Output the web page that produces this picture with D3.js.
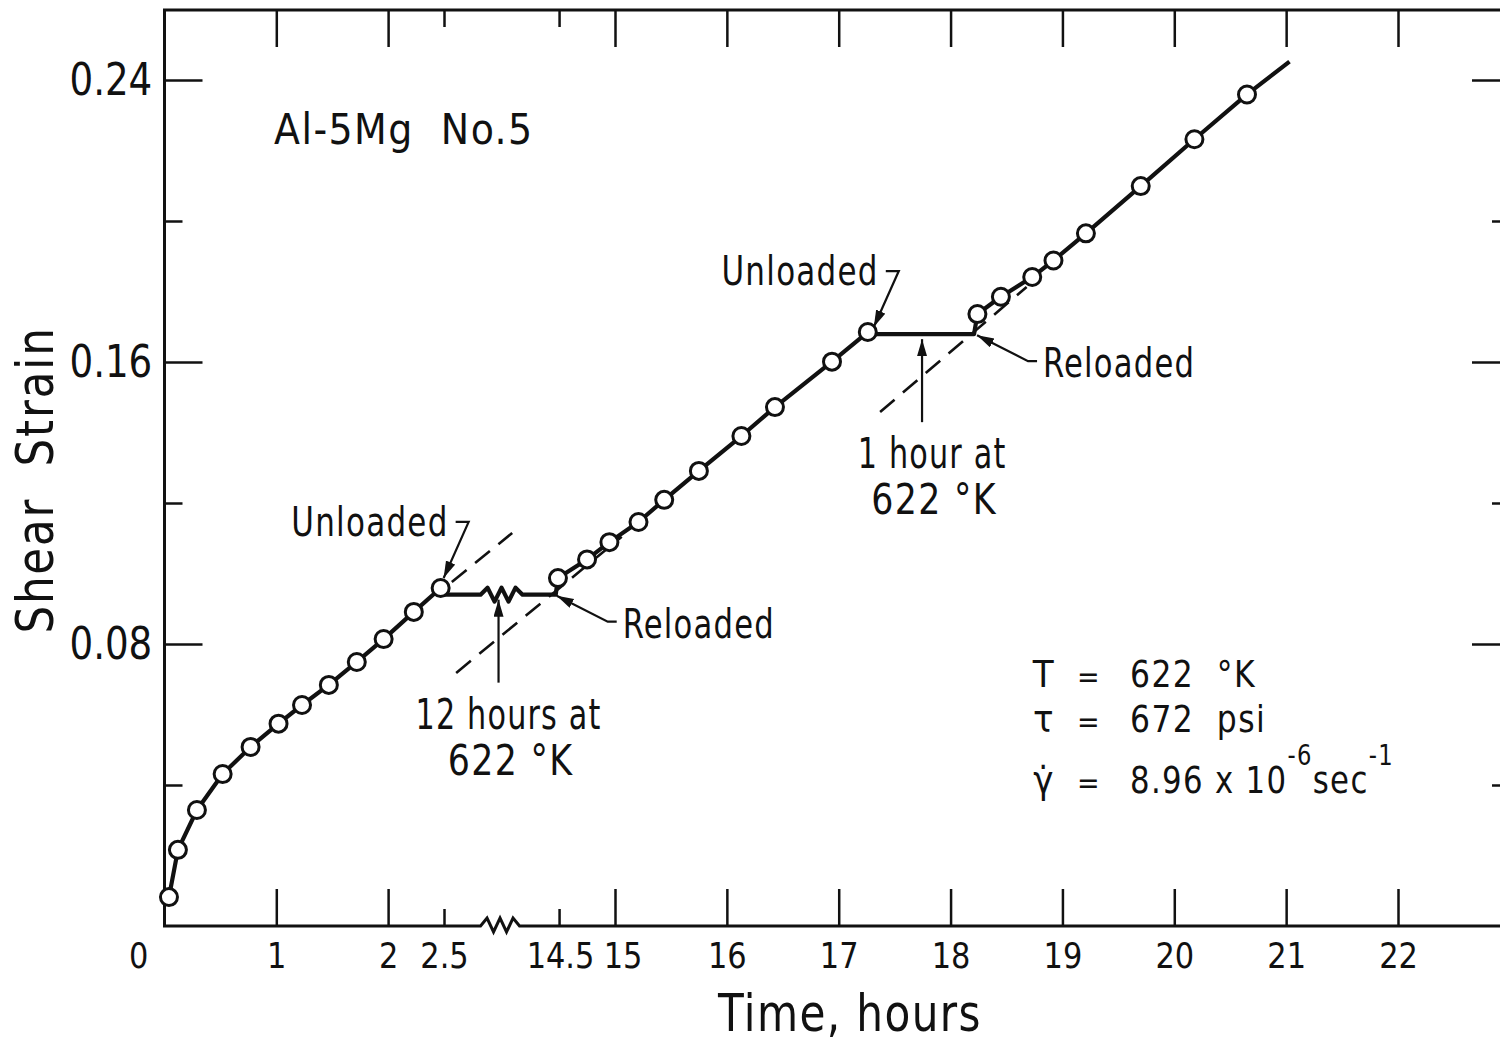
<!DOCTYPE html>
<html lang="en">
<head>
<meta charset="UTF-8" />
<title>Shear strain vs time - Al-5Mg No. 5</title>
<script src="https://d3js.org/d3.v7.min.js"></script>
<style>
  body { margin: 0; background: #fff; }
  svg { display: block; }
  text {
    font-family: "Liberation Sans Narrow", "DejaVu Sans Condensed", "DejaVu Sans", sans-serif;
    fill: #111;
  }
</style>
</head>
<body>
<script>
// first loading, before the 12 h hold (hours, shear strain)
var timesA  = [0.04, 0.12, 0.29, 0.52, 0.77, 1.02, 1.23, 1.47, 1.72, 1.96, 2.23, 2.47];
var strainA = [0.0082, 0.0216, 0.0329, 0.0431, 0.0508, 0.0574, 0.0627, 0.0684, 0.0749, 0.0814, 0.0891, 0.0959];
// after first reload, up to second unload
var timesB  = [14.49, 14.75, 14.95, 15.21, 15.44, 15.75, 16.13, 16.43, 16.94, 17.26];
var strainB = [0.0987, 0.1040, 0.1089, 0.1146, 0.1209, 0.1291, 0.1390, 0.1472, 0.1601, 0.1685];
// after second reload
var timesC  = [18.24, 18.45, 18.73, 18.92, 19.21, 19.70, 20.18, 20.65];
var strainC = [0.1736, 0.1785, 0.1841, 0.1888, 0.1965, 0.2099, 0.2232, 0.2359];
// curve carries on past the last circle
var endTime = [21.03];
var endStrain = [0.2452];

// unloaded plateaus
var plateauStrain = [0.0940, 0.1679];
var unloadTime = [2.5, 17.28];
var reloadTime = [14.47, 18.21];
var holdLabel = [["12 hours at", "622 °K"], ["1 hour at", "622 °K"]];

// dashed extrapolations of the loading lines
var dashTimes   = [[2.57, 3.11], [13.58, 15.06], [17.37, 18.68]];
var dashStrains = [[0.0976, 0.1115], [0.0718, 0.1104], [0.1458, 0.1813]];

// axes
var yMajor = [0.08, 0.16, 0.24];
var yMinor = [0.04, 0.12, 0.20];
var xTicksLeft  = [0, 1, 2, 2.5];
var xTicksRight = [14.5, 15, 16, 17, 18, 19, 20, 21, 22];
var xMinor = [2.5, 14.5];

var W = 1500, H = 1045;
var frameL = 164.5, frameT = 10, frameR = 1510, frameB = 926;

var svg = d3.select("body").append("svg")
  .attr("width", W)
  .attr("height", H);

svg.append("rect").attr("width", W).attr("height", H).attr("fill", "#fff");

// broken time axis: two linear pieces
var xL = d3.scaleLinear().domain([0, 2.5]).range([frameL, 444]);
var xR = d3.scaleLinear().domain([15, 22]).range([615, 1398]);
var y = d3.scaleLinear().domain([0, 0.24]).range([frameB, 80]);

var gapMid = (xL(2.5) + xR(14.5)) / 2;

svg.append("defs").append("marker")
  .attr("id", "head")
  .attr("markerUnits", "userSpaceOnUse")
  .attr("markerWidth", 20).attr("markerHeight", 12)
  .attr("refX", 17).attr("refY", 5)
  .attr("orient", "auto")
  .append("path")
  .attr("d", "M0,0 L17,5 L0,10 Z")
  .attr("fill", "#111");

function zig(x0, x1, yc, amp, n, up) {
  var pts = [];
  var step = (x1 - x0) / n;
  for (var i = 1; i < n; i++) {
    var s = (i % 2 == 1) == up ? -1 : 1;
    pts.push([x0 + i * step, yc + s * amp]);
  }
  return pts;
}

function fixAxis(g, size, sx) {
  g.attr("font-size", null).attr("font-family", null);
  g.select(".domain").remove();
  g.selectAll(".tick line").attr("stroke", "#111").attr("stroke-width", 2.5);
  g.selectAll(".tick text").style("font-size", size + "px")
    .attr("transform", "scale(" + (sx || 1) + ",1)");
}

// ---- axes ----
var minorLen = 17, majorLen = 37;
var plain = function(d) { return String(d); };

var gxl = svg.append("g").attr("transform", "translate(0," + frameB + ")")
  .call(d3.axisBottom(xL).tickValues(xTicksLeft).tickSize(-majorLen).tickPadding(16).tickFormat(plain));
fixAxis(gxl, 36, 0.94);
gxl.selectAll(".tick").filter(function(d) { return d == 0; }).select("line").remove();
gxl.selectAll(".tick").filter(function(d) { return d == 0; }).select("text").attr("x", -28);

var gxr = svg.append("g").attr("transform", "translate(0," + frameB + ")")
  .call(d3.axisBottom(xR).tickValues(xTicksRight).tickSize(-majorLen).tickPadding(16).tickFormat(plain));
fixAxis(gxr, 36, 0.94);
gxr.selectAll(".tick").filter(function(d) { return d == 14.5; }).select("text").attr("x", 1);
gxr.selectAll(".tick").filter(function(d) { return d == 15; }).select("text").attr("x", 8);

var gtl = svg.append("g").attr("transform", "translate(0," + frameT + ")")
  .call(d3.axisTop(xL).tickValues(xTicksLeft.slice(1)).tickSize(-majorLen).tickFormat(""));
fixAxis(gtl, 10);
var gtr = svg.append("g").attr("transform", "translate(0," + frameT + ")")
  .call(d3.axisTop(xR).tickValues(xTicksRight).tickSize(-majorLen).tickFormat(""));
fixAxis(gtr, 10);

[gxl, gxr, gtl, gtr].forEach(function(g) {
  g.selectAll(".tick").filter(function(d) { return xMinor.indexOf(d) >= 0; })
    .select("line").attr("y2", g === gtl || g === gtr ? minorLen : -minorLen);
});

var gyl = svg.append("g").attr("transform", "translate(" + frameL + ",0)")
  .call(d3.axisLeft(y).tickValues(yMajor).tickSize(-38).tickPadding(13).tickFormat(d3.format(".2f")));
fixAxis(gyl, 44, 0.94);
var gylm = svg.append("g").attr("transform", "translate(" + frameL + ",0)")
  .call(d3.axisLeft(y).tickValues(yMinor).tickSize(-18).tickFormat(""));
fixAxis(gylm, 10);
var gyr = svg.append("g").attr("transform", "translate(" + frameR + ",0)")
  .call(d3.axisRight(y).tickValues(yMajor).tickSize(-38).tickFormat(""));
fixAxis(gyr, 10);
var gyrm = svg.append("g").attr("transform", "translate(" + frameR + ",0)")
  .call(d3.axisRight(y).tickValues(yMinor).tickSize(-18).tickFormat(""));
fixAxis(gyrm, 10);

// frame with break on the time axis
var framePts = [[frameR, frameT], [frameL, frameT], [frameL, frameB], [gapMid - 21, frameB]]
  .concat(zig(gapMid - 21, gapMid + 18, frameB - 1, 7, 6, true))
  .concat([[gapMid + 18, frameB], [frameR, frameB], [frameR, frameT]]);
svg.append("path")
  .attr("d", d3.line()(framePts))
  .attr("fill", "none").attr("stroke", "#111").attr("stroke-width", 3)
  .attr("stroke-linejoin", "miter");

// ---- dashed extrapolations ----
dashTimes.forEach(function(t, i) {
  var sx = i == 0 ? xL : xR;
  svg.append("line")
    .attr("x1", sx(t[0])).attr("y1", y(dashStrains[i][0]))
    .attr("x2", sx(t[1])).attr("y2", y(dashStrains[i][1]))
    .attr("stroke", "#111").attr("stroke-width", 2.6)
    .attr("stroke-dasharray", "19,11");
});

// ---- strain curve ----
var ptsA = timesA.map(function(t, i) { return [xL(t), y(strainA[i])]; });
var ptsB = timesB.map(function(t, i) { return [xR(t), y(strainB[i])]; });
var ptsC = timesC.map(function(t, i) { return [xR(t), y(strainC[i])]; });

var p1 = y(plateauStrain[0]), p2 = y(plateauStrain[1]);
var curve = ptsA
  .concat([[xL(unloadTime[0]), p1], [gapMid - 21, p1]])
  .concat(zig(gapMid - 21, gapMid + 21, p1, 7, 6, true))
  .concat([[gapMid + 21, p1], [xR(reloadTime[0]), p1]])
  .concat(ptsB)
  .concat([[xR(unloadTime[1]), p2], [xR(reloadTime[1]), p2]])
  .concat(ptsC)
  .concat([[xR(endTime[0]), y(endStrain[0])]]);

svg.append("path")
  .attr("d", d3.line()(curve))
  .attr("fill", "none").attr("stroke", "#111").attr("stroke-width", 4.2)
  .attr("stroke-linejoin", "round");

svg.append("g").selectAll("circle")
  .data(ptsA.concat(ptsB, ptsC))
  .enter().append("circle")
  .attr("cx", function(d) { return d[0]; })
  .attr("cy", function(d) { return d[1]; })
  .attr("r", 8.5)
  .attr("fill", "#fff").attr("stroke", "#111").attr("stroke-width", 3);

// ---- annotations ----
function leader(pts) {
  svg.append("path")
    .attr("d", d3.line()(pts))
    .attr("fill", "none").attr("stroke", "#111").attr("stroke-width", 2.2)
    .attr("marker-end", "url(#head)");
}
// text squeezed sideways to get the narrow lettering of the original
function label(x, yy, txt, anchor, size, sx) {
  return svg.append("text")
    .attr("transform", "translate(" + x + "," + yy + ") scale(" + (sx || 0.84) + ",1)")
    .attr("text-anchor", anchor || "start")
    .style("font-size", (size || 41) + "px")
    .style("letter-spacing", "1.5px")
    .style("white-space", "pre")
    .text(txt);
}

// unloaded markers point at the last circle before each hold
[ptsA[ptsA.length - 1], ptsB[ptsB.length - 1]].forEach(function(c, i) {
  var tip = i == 0 ? [c[0] + 3, c[1] - 10] : [c[0] + 6, c[1] - 5];
  leader([[tip[0] + 12, tip[1] - 56], [tip[0] + 25, tip[1] - 56], tip]);
  label(tip[0] + 5, tip[1] - 42, "Unloaded", "end");
});

// reloaded markers at the end of each plateau
[[xR(reloadTime[0]) + 1, p1 + 1], [xR(reloadTime[1]) + 3, p2 + 1]].forEach(function(tip) {
  leader([[tip[0] + 60, tip[1] + 26], [tip[0] + 51, tip[1] + 26], tip]);
  label(tip[0] + 66, tip[1] + 42, "Reloaded", "start", 41, 0.83);
});

// hold time arrows
[[gapMid - 3, p1], [(xR(unloadTime[1]) + xR(reloadTime[1])) / 2, p2]].forEach(function(a, i) {
  leader([[a[0], a[1] + 88], [a[0], a[1] + 5]]);
  label(a[0] + 10, a[1] + 134, holdLabel[i][0], "middle", 42, 0.8);
  label(a[0] + 12, a[1] + 180, holdLabel[i][1], "middle", 43, 0.9);
});

// specimen name
label(274, 144, "Al-5Mg  No.5", "start", 43, 0.98);

// test conditions
var condSym = ["T", "τ", "γ̇"];
var condRowY = [687, 732, 793];
condSym.forEach(function(s, i) {
  label(1044, condRowY[i], s, "middle", 38, 1);
  label(1089, condRowY[i], "=", "middle", 30, 1);
});
label(1130, condRowY[0], "622  °K", "start", 38, 0.92);
label(1130, condRowY[1], "672  psi", "start", 38, 0.92);
var r3 = label(1130, condRowY[2], "8.96 x 10", "start", 38, 0.9);
r3.append("tspan").attr("dy", -28).style("font-size", "28px").text("-6");
r3.append("tspan").attr("dy", 28).text("sec");
r3.append("tspan").attr("dy", -28).style("font-size", "28px").text("-1");

// axis titles
label(850, 1031, "Time, hours", "middle", 51, 0.92);
svg.append("text")
  .attr("transform", "translate(53,480) rotate(-90) scale(0.93,1)")
  .attr("text-anchor", "middle")
  .style("font-size", "52px")
  .style("letter-spacing", "2px")
  .style("white-space", "pre")
  .text("Shear  Strain");
</script>
</body>
</html>
